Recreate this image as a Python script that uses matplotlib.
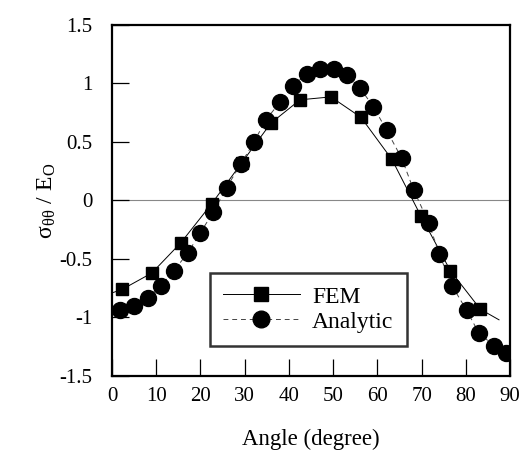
import matplotlib
matplotlib.use("Agg")
import matplotlib.pyplot as plt

# FEM (square markers)
fem_angle = [2.3, 9.0, 15.6, 22.5, 29.3, 35.9, 42.5, 49.5, 56.3, 63.3, 69.8, 76.5, 83.3]
fem_stress = [-0.76, -0.62, -0.36, -0.03, 0.32, 0.66, 0.86, 0.885, 0.71, 0.35, -0.13, -0.60, -0.93]
# FEM curve ends (line runs a bit past the first/last markers)
fem_line_angle = [0.0] + fem_angle + [87.5]
fem_line_stress = [-0.79] + fem_stress + [-1.02]

# Analytic (circle markers)
ana_angle = [1.8, 5.0, 8.2, 11.0, 14.0, 17.1, 19.9, 22.9, 25.9, 29.1, 32.1, 34.8, 38.0,
             40.9, 44.0, 47.1, 50.1, 53.1, 56.1, 59.1, 62.1, 65.5, 68.2, 71.6, 74.0,
             76.9, 80.2, 82.9, 86.3, 89.1]
ana_stress = [-0.94, -0.90, -0.83, -0.73, -0.60, -0.45, -0.28, -0.10, 0.11, 0.31, 0.50,
              0.69, 0.84, 0.98, 1.08, 1.12, 1.12, 1.07, 0.96, 0.80, 0.60, 0.36, 0.09,
              -0.19, -0.46, -0.73, -0.94, -1.13, -1.24, -1.30]

plt.rcParams["font.family"] = ["Liberation Serif", "DejaVu Serif"]
plt.rcParams["mathtext.fontset"] = "stix"

fig = plt.figure(figsize=(5.21, 4.53), dpi=100)
ax = fig.add_axes([0.215, 0.170, 0.764, 0.775])

ax.axhline(0, color="#888888", lw=0.8, zorder=1)

ax.plot(fem_line_angle, fem_line_stress, color="black", lw=0.7, zorder=2)
ax.plot(fem_angle, fem_stress, ls="none", marker="s", ms=9, color="black", zorder=3)
fem_handle, = ax.plot([], [], color="black", lw=0.7, marker="s", ms=10, label="FEM")

ax.plot(ana_angle, ana_stress, color="#444444", lw=0.7, ls=(0, (5, 4)), zorder=2)
ax.plot(ana_angle, ana_stress, ls="none", marker="o", ms=11.5, color="black", zorder=3)
ana_handle, = ax.plot([], [], color="#444444", lw=0.7, ls=(0, (5, 4)), marker="o", ms=12,
                      mfc="black", mec="black", label="Analytic")

ax.set_xlim(0, 90)
ax.set_ylim(-1.5, 1.5)
ax.set_xticks(range(0, 91, 10))
ax.set_yticks([-1.5, -1, -0.5, 0, 0.5, 1, 1.5])
ax.set_yticklabels(["-1.5", "-1", "-0.5", "0", "0.5", "1", "1.5"])
ax.tick_params(direction="in", length=12, width=0.9, labelsize=15)
ax.tick_params(axis="y", pad=14)
ax.tick_params(axis="x", pad=8)

for side in ax.spines.values():
    side.set_linewidth(1.6)

ax.set_xlabel("Angle (degree)", fontsize=16.5, labelpad=16)
ax.set_ylabel(r"σ$_{\mathregular{θθ}}$ / E$_{\mathregular{O}}$", fontsize=17, labelpad=1)

leg = ax.legend(handles=[fem_handle, ana_handle], loc="upper left",
                bbox_to_anchor=(0.245, 0.293), fontsize=17, frameon=True, fancybox=False,
                edgecolor="black", handlelength=3.3, borderpad=0.55, labelspacing=0.15,
                handletextpad=0.5, borderaxespad=0)
leg.get_frame().set_linewidth(1.8)

fig.savefig("out.png", dpi=100)
